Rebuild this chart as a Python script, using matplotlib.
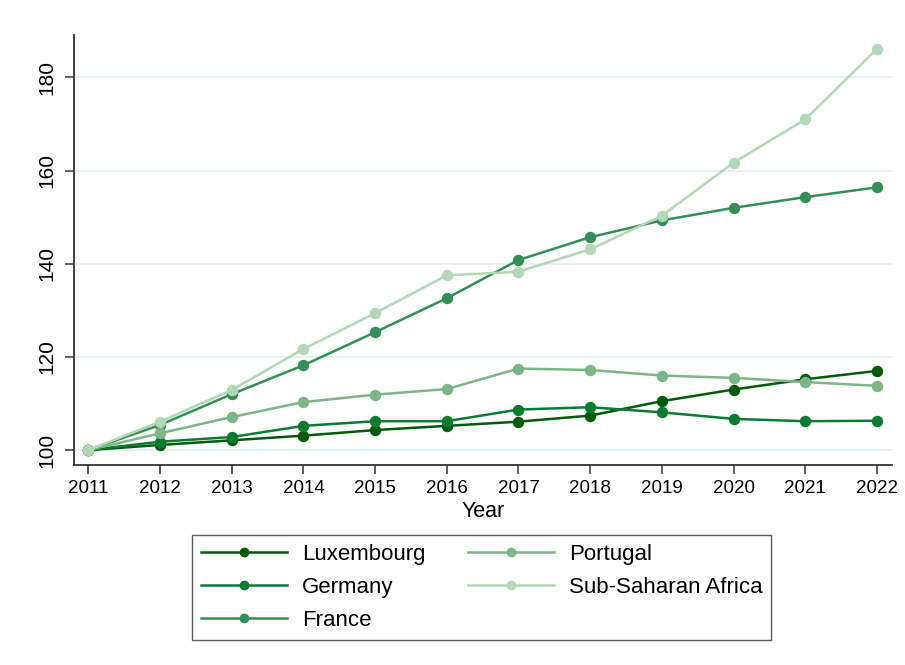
import numpy as np
import matplotlib
matplotlib.use("Agg")
import matplotlib.pyplot as plt

plt.rcParams['font.family'] = ['Liberation Sans', 'DejaVu Sans']

years = list(range(2011, 2023))
countries = ["Luxembourg", "Germany", "France", "Portugal", "Sub-Saharan Africa"]

luxembourg = [100, 101.1, 102.1, 103.1, 104.3, 105.2, 106.1, 107.4, 110.5, 113.0, 115.2, 117.0]
germany = [100, 101.8, 102.8, 105.2, 106.2, 106.2, 108.7, 109.2, 108.1, 106.7, 106.2, 106.3]
france = [100, 105.4, 112.0, 118.2, 125.3, 132.6, 140.8, 145.7, 149.3, 152.0, 154.3, 156.4]
portugal = [100, 103.6, 107.1, 110.3, 111.9, 113.1, 117.5, 117.2, 116.0, 115.5, 114.6, 113.8]
ssa = [100, 106.1, 112.9, 121.7, 129.4, 137.5, 138.3, 143.1, 150.3, 161.7, 171.0, 186.1]

series = [luxembourg, germany, france, portugal, ssa]
colors = ["#005a0a", "#0a7a32", "#358e57", "#7db588", "#b4d6b9"]

yticks = [100, 120, 140, 160, 180]

fig = plt.figure(figsize=(9.05, 6.65), dpi=100)
ax = fig.add_axes([74 / 905, 200 / 665, 818 / 905, 430 / 665])

for vals, name, c in zip(series, countries, colors):
    ax.plot(years, vals, color=c, lw=1.8, marker="o", ms=7.2, mec=c, mfc=c, label=name)

ax.set_xlim(2010.8, 2022.21)
ax.set_ylim(96.8, 189.1)
ax.set_xticks(years)
ax.set_yticks(yticks)
ax.grid(axis="y", color="#e8eff5", lw=1.4)
ax.set_axisbelow(True)

for s in ["top", "right"]:
    ax.spines[s].set_visible(False)
for s in ["left", "bottom"]:
    ax.spines[s].set_color("#333333")
    ax.spines[s].set_linewidth(1.3)

ax.tick_params(axis="x", length=6.5, width=1.1, color="#333333", labelsize=13.5, pad=4)
ax.tick_params(axis="y", length=6.5, width=1.1, color="#333333", labelsize=15, pad=6)
for lab in ax.get_yticklabels():
    lab.set_rotation(90)
    lab.set_va("center")

ax.set_xlabel("Year", fontsize=15.5, labelpad=3)

leg = fig.legend(loc="center", bbox_to_anchor=(481.5 / 905, 1 - 587.5 / 665), ncol=2,
                 fontsize=16, frameon=True, fancybox=False, edgecolor="#333333",
                 handlelength=3.9, handletextpad=0.65, columnspacing=1.9,
                 labelspacing=0.55, borderpad=0.4)
leg.get_frame().set_linewidth(1.0)
for h in leg.legend_handles:
    h.set_markersize(6)

fig.savefig("out.png", dpi=100)
